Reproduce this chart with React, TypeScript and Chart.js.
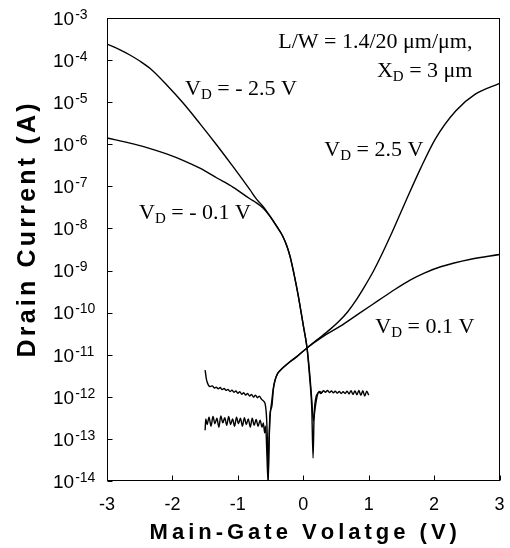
import React, { useEffect, useRef } from "react";
import { Chart, registerables } from "chart.js";

Chart.register(...registerables);

const SANS = '"Liberation Sans", Arial, sans-serif';
const SERIF = '"Liberation Serif", "Times New Roman", serif';

// ---- V_D = -2.5 V ----
const vgNeg25 = [-3.0, -2.8, -2.65, -2.5, -2.34, -2.09, -1.83, -1.58, -1.32, -1.07, -0.81, -0.72, -0.66, -0.6, -0.54, -0.47, -0.4, -0.32, -0.25, -0.2, -0.15, -0.11, -0.07, -0.03, 0.005, 0.057, 0.1, 0.13, 0.155, 0.18, 0.21, 0.24, 0.27, 0.3];
const idNeg25 = [2.4e-4, 1.75e-4, 1.32e-4, 9.5e-5, 6.3e-5, 2.6e-5, 9.3e-6, 3.1e-6, 9.5e-7, 2.9e-7, 8.1e-8, 5.1e-8, 4.0e-8, 3.1e-8, 2.3e-8, 1.62e-8, 1.1e-8, 6.9e-9, 3.85e-9, 2.15e-9, 9.7e-10, 4.8e-10, 2.25e-10, 9.7e-11, 4.6e-11, 1.5e-11, 3.4e-12, 8.5e-13, 2.7e-13, 5.2e-13, 1.0e-12, 1.3e-12, 1.2e-12, 1.35e-12];

// ---- V_D = -0.1 V ----
const vgNeg01 = [-3.0, -2.6, -2.34, -2.09, -1.83, -1.58, -1.32, -1.07, -0.81, -0.72, -0.66, -0.6, -0.54, -0.47, -0.4, -0.32, -0.25, -0.2, -0.15, -0.11, -0.07, -0.03, 0.005, 0.057, 0.1, 0.13, 0.15, 0.165, 0.19, 0.22,
  0.25, 0.28, 0.31, 0.34, 0.37, 0.4, 0.43, 0.46, 0.49, 0.52, 0.55, 0.58, 0.61, 0.64, 0.67, 0.7, 0.73, 0.76, 0.79, 0.82, 0.85, 0.88, 0.91, 0.94, 0.97, 1.0];
const idNeg01 = [1.41e-6, 1.02e-6, 7.9e-7, 5.9e-7, 4.1e-7, 2.7e-7, 1.58e-7, 9.5e-8, 5.0e-8, 4.1e-8, 3.5e-8, 2.9e-8, 2.25e-8, 1.58e-8, 1.07e-8, 6.8e-9, 3.8e-9, 2.1e-9, 9.5e-10, 4.7e-10, 2.2e-10, 9.5e-11, 4.5e-11, 1.48e-11, 2.6e-12, 5.5e-13, 3.5e-14, 3.2e-13, 9e-13, 1.2e-12,
  1.35e-12, 1.25e-12, 1.4e-12, 1.28e-12, 1.42e-12, 1.27e-12, 1.38e-12, 1.24e-12, 1.36e-12, 1.22e-12, 1.34e-12, 1.2e-12, 1.32e-12, 1.2e-12, 1.36e-12, 1.17e-12, 1.4e-12, 1.14e-12, 1.38e-12, 1.12e-12, 1.42e-12, 1.08e-12, 1.4e-12, 1.05e-12, 1.36e-12, 1.1e-12];

// ---- V_D = 0.1 V ----
const vgPos01 = [-1.5, -1.48, -1.45, -1.42, -1.39, -1.36, -1.33, -1.3, -1.27, -1.24, -1.21, -1.18, -1.15, -1.12, -1.09, -1.06, -1.03, -1.0, -0.97, -0.94, -0.91, -0.88, -0.85, -0.82, -0.79, -0.76, -0.73, -0.7, -0.67, -0.64, -0.61,
  -0.58, -0.56, -0.545, -0.535, -0.525, -0.51, -0.48, -0.455, -0.43, -0.39, -0.35, -0.2, -0.1, 0.057, 0.3, 0.56, 0.85, 1.15, 1.4, 1.64, 1.85, 2.1, 2.56, 3.0];
const idPos01 = [4.3e-12, 2.6e-12, 1.9e-12, 1.75e-12, 1.82e-12, 1.62e-12, 1.7e-12, 1.55e-12, 1.66e-12, 1.48e-12, 1.58e-12, 1.42e-12, 1.5e-12, 1.33e-12, 1.44e-12, 1.28e-12, 1.38e-12, 1.22e-12, 1.32e-12, 1.15e-12, 1.25e-12, 1.1e-12, 1.2e-12, 1.05e-12, 1.14e-12, 0.98e-12, 1.1e-12, 0.95e-12, 1.04e-12, 0.88e-12, 0.8e-12,
  6.5e-13, 3.0e-13, 6e-14, 1.05e-14, 6e-14, 3.5e-13, 6e-13, 1.6e-12, 2.5e-12, 3.6e-12, 4.3e-12, 6.8e-12, 8.9e-12, 1.45e-11, 2.7e-11, 4.7e-11, 9.5e-11, 1.95e-10, 3.55e-10, 6.0e-10, 8.7e-10, 1.23e-9, 1.86e-9, 2.4e-9];

// ---- V_D = 2.5 V ----
const vgPos25 = [-1.5, -1.49, -1.47, -1.44, -1.41, -1.38, -1.35, -1.32, -1.29, -1.26, -1.23, -1.2, -1.17, -1.14, -1.11, -1.08, -1.05, -1.02, -0.99, -0.96, -0.93, -0.9, -0.87, -0.84, -0.81, -0.78, -0.75, -0.72, -0.69, -0.66, -0.63,
  -0.61, -0.59, -0.575, -0.555, -0.54, -0.53, -0.52, -0.505, -0.485, -0.46, -0.435, -0.4, -0.36, -0.2, -0.1, 0.057, 0.2, 0.41, 0.55, 0.68, 0.8, 0.93, 1.07, 1.2, 1.33, 1.56, 1.79, 2.02, 2.33, 2.63, 3.0];
const idPos25 = [1.6e-13, 3.0e-13, 2.2e-13, 3.3e-13, 2.0e-13, 3.4e-13, 2.3e-13, 3.1e-13, 1.9e-13, 3.5e-13, 2.4e-13, 3.2e-13, 2.1e-13, 3.4e-13, 2.2e-13, 3.0e-13, 2.0e-13, 3.3e-13, 2.3e-13, 3.1e-13, 2.0e-13, 3.2e-13, 2.2e-13, 3.0e-13, 1.9e-13, 3.1e-13, 2.1e-13, 2.9e-13, 2.0e-13, 2.8e-13, 1.9e-13,
  2.4e-13, 1.4e-13, 2.0e-13, 4e-14, 1.05e-14, 3e-14, 1.1e-13, 3.8e-13, 7e-13, 1.5e-12, 2.4e-12, 3.4e-12, 4.1e-12, 6.9e-12, 9.0e-12, 1.45e-11, 2.2e-11, 4.0e-11, 6.3e-11, 1.05e-10, 1.9e-10, 4.0e-10, 9.5e-10, 2.4e-9, 6.5e-9, 4.2e-8, 2.6e-7, 1.35e-6, 6.2e-6, 1.55e-5, 2.8e-5];

// ---- axes ----
const xTickValues = [-3, -2, -1, 0, 1, 2, 3];
const yTickExponents = [-14, -13, -12, -11, -10, -9, -8, -7, -6, -5, -4, -3];
const xAxisTitle = "Main-Gate Volatge (V)";
const yAxisTitle = "Drain Current (A)";

type Part = { t: string; sub?: boolean };
type Note = { parts: Part[]; x: number; y: number; align: "left" | "right" };
const notes: Note[] = [
  { parts: [{ t: "L/W = 1.4/20 μm/μm," }], x: 2.587, y: 1.95e-4, align: "right" },
  { parts: [{ t: "X" }, { t: "D", sub: true }, { t: " = 3 μm" }], x: 2.587, y: 4.0e-5, align: "right" },
  { parts: [{ t: "V" }, { t: "D", sub: true }, { t: " = - 2.5 V" }], x: -1.806, y: 1.5e-5, align: "left" },
  { parts: [{ t: "V" }, { t: "D", sub: true }, { t: " = 2.5 V" }], x: 0.322, y: 5.35e-7, align: "left" },
  { parts: [{ t: "V" }, { t: "D", sub: true }, { t: " = - 0.1 V" }], x: -2.51, y: 1.72e-8, align: "left" },
  { parts: [{ t: "V" }, { t: "D", sub: true }, { t: " = 0.1 V" }], x: 1.102, y: 3.24e-11, align: "left" },
];

function zip(xs: number[], ys: number[]) {
  return xs.map((x, i) => ({ x, y: ys[i] }));
}

function drawSpaced(ctx: CanvasRenderingContext2D, text: string, cx: number, y: number, spacing: number) {
  let total = 0;
  for (const ch of text) total += ctx.measureText(ch).width + spacing;
  total -= spacing;
  let x = cx - total / 2;
  for (const ch of text) {
    ctx.fillText(ch, x, y);
    x += ctx.measureText(ch).width + spacing;
  }
}

const overlay = {
  id: "overlay",
  afterDraw(chart: any) {
    const { ctx, chartArea: ca, scales } = chart;
    const xs = scales.x;
    const ys = scales.y;
    ctx.save();
    const L = Math.round(ca.left) + 0.5;
    const R = Math.round(ca.right) - 0.5;
    const T = Math.round(ca.top) + 0.5;
    const B = Math.round(ca.bottom) - 0.5;
    ctx.strokeStyle = "#000";
    ctx.lineWidth = 1;
    ctx.strokeRect(L, T, R - L, B - T);
    ctx.beginPath();
    xs.ticks.forEach((t: any) => {
      const px = Math.round(xs.getPixelForValue(t.value)) + 0.5;
      ctx.moveTo(px, B);
      ctx.lineTo(px, B - 5);
    });
    ys.ticks.forEach((t: any) => {
      const py = Math.round(ys.getPixelForValue(t.value)) + 0.5;
      ctx.moveTo(L, py);
      ctx.lineTo(L + 5, py);
    });
    ctx.stroke();

    ctx.fillStyle = "#000";
    ctx.textBaseline = "alphabetic";
    // y tick labels 10^n
    ys.ticks.forEach((t: any) => {
      const e = Math.round(Math.log10(t.value));
      const py = ys.getPixelForValue(t.value);
      ctx.textAlign = "left";
      ctx.font = `19px ${SANS}`;
      ctx.fillText("10", 53, py + 6.8);
      const w = ctx.measureText("10").width;
      ctx.font = `14px ${SANS}`;
      ctx.fillText(String(e), 53 + w + 1, py + 0.8);
    });
    // x tick labels
    ctx.font = `18px ${SANS}`;
    ctx.textAlign = "center";
    xs.ticks.forEach((t: any) => {
      ctx.fillText(String(t.value), xs.getPixelForValue(t.value), 509.5);
    });
    // axis titles
    ctx.textAlign = "left";
    ctx.font = `bold 22px ${SANS}`;
    drawSpaced(ctx, xAxisTitle, (ca.left + ca.right) / 2, 539, 4);
    ctx.save();
    ctx.translate(35, 230.5);
    ctx.rotate(-Math.PI / 2);
    ctx.font = `bold 25px ${SANS}`;
    drawSpaced(ctx, yAxisTitle, 0, 0, 3.2);
    ctx.restore();

    // annotations
    const main = `22px ${SERIF}`;
    const sub = `15px ${SERIF}`;
    notes.forEach((n) => {
      const px = xs.getPixelForValue(n.x);
      const py = ys.getPixelForValue(n.y);
      let total = 0;
      n.parts.forEach((p) => {
        ctx.font = p.sub ? sub : main;
        total += ctx.measureText(p.t).width;
      });
      let cx = n.align === "right" ? px - total : px;
      ctx.textAlign = "left";
      n.parts.forEach((p) => {
        ctx.font = p.sub ? sub : main;
        ctx.fillText(p.t, cx, p.sub ? py + 4 : py);
        cx += ctx.measureText(p.t).width;
      });
    });
    ctx.restore();
  },
};

export default function App() {
  const ref = useRef<HTMLCanvasElement>(null);
  useEffect(() => {
    const series = [
      zip(vgNeg25, idNeg25),
      zip(vgNeg01, idNeg01),
      zip(vgPos01, idPos01),
      zip(vgPos25, idPos25),
    ];
    const chart = new Chart(ref.current as HTMLCanvasElement, {
      type: "scatter",
      data: {
        datasets: series.map((d) => ({
          data: d,
          showLine: true,
          borderColor: "#000",
          backgroundColor: "#000",
          borderWidth: 1.4,
          pointRadius: 0,
          fill: false,
          cubicInterpolationMode: "monotone" as const,
        })),
      },
      options: {
        responsive: false,
        animation: false,
        events: [],
        layout: { padding: { left: 107, right: 10.5, top: 18, bottom: 67 }, autoPadding: false },
        plugins: { legend: { display: false }, tooltip: { enabled: false } },
        scales: {
          x: {
            type: "linear",
            min: -3,
            max: 3,
            grid: { display: false, drawTicks: false },
            border: { display: false },
            ticks: { display: false },
            afterBuildTicks: (scale: any) => {
              scale.ticks = xTickValues.map((v) => ({ value: v }));
            },
          },
          y: {
            type: "logarithmic",
            min: 1e-14,
            max: 1e-3,
            grid: { display: false, drawTicks: false },
            border: { display: false },
            ticks: { display: false },
            afterBuildTicks: (scale: any) => {
              scale.ticks = yTickExponents.map((e) => ({ value: Math.pow(10, e) }));
            },
          },
        },
      },
      plugins: [overlay],
    } as any);
    return () => chart.destroy();
  }, []);
  return (
    <div style={{ position: "absolute", left: 0, top: 0, width: 510, height: 548, background: "#fff" }}>
      <canvas ref={ref} width={510} height={548} style={{ display: "block", width: 510, height: 548 }} />
    </div>
  );
}
